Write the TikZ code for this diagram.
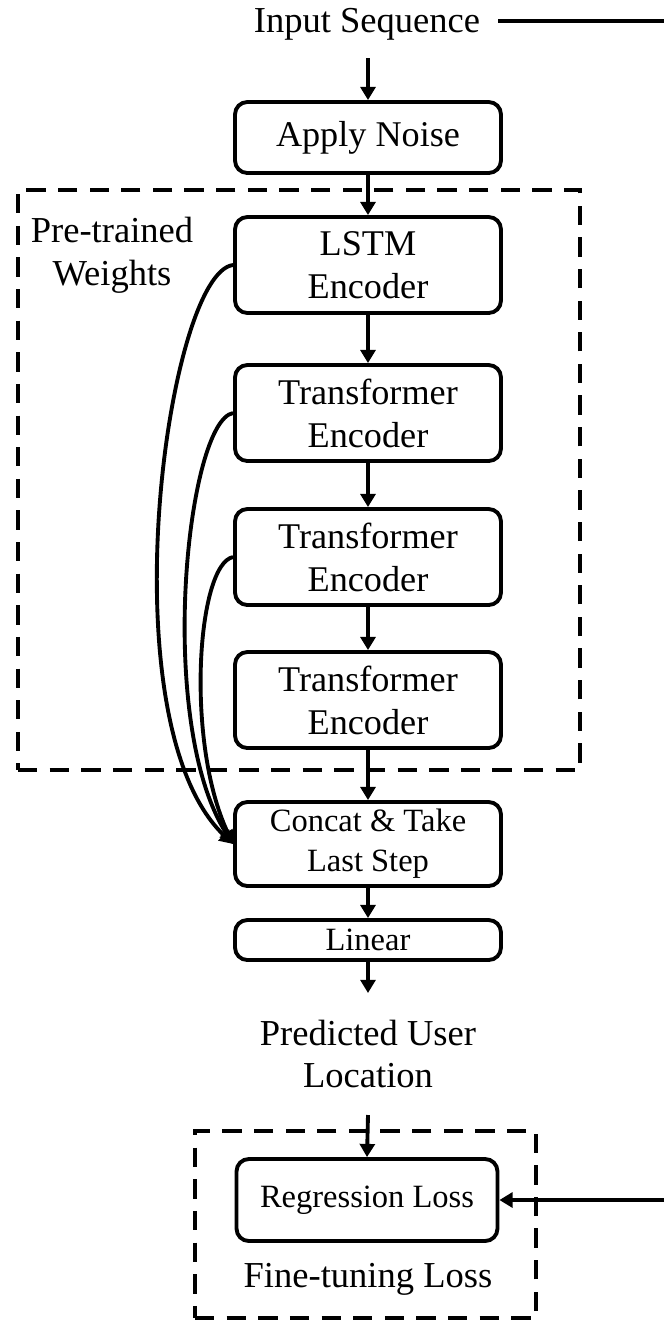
\documentclass[tikz,border=0pt]{standalone}
\usepackage{fontspec}
\setmainfont{Liberation Serif}
\usetikzlibrary{arrows.meta,calc}

\begin{document}
\begin{tikzpicture}[x=0.02cm,y=-0.02cm,
  line width=2.2pt,
  box/.style={draw, rounded corners=7pt, minimum width=5.32cm, align=center,
    inner sep=0pt, font=\fontsize{20.6}{24.4}\selectfont},
  smallbox/.style={box, font=\fontsize{18.5}{22.7}\selectfont},
  lbl/.style={align=center, inner sep=0pt, font=\fontsize{20.8}{24.4}\selectfont},
  arr/.style={-{Triangle[length=7.5pt,width=8.5pt]}},
  group/.style={draw, dash pattern=on 11pt off 7pt, inner sep=0pt}]
\useasboundingbox (0,0) rectangle (664,1322);

% dashed groups
\node[group, minimum width=11.24cm, minimum height=11.6cm] (pretrained) at (299,480) {};
\node[group, minimum width=6.82cm, minimum height=3.74cm] (finetune) at (365.5,1224.5) {};

% labels
\node[lbl] (input) at (367,24) {Input Sequence};
\node[lbl] (ptw) at (112,255) {Pre-trained\\Weights};
\node[lbl] (pred) at (368,1054) {Predicted User\\Location};
\node[lbl] (ftl) at (368,1279) {Fine-tuning Loss};

% processing chain
\node[box, minimum height=1.42cm] (noise) at (368,137.5) {Apply Noise};
\node[box, minimum height=1.92cm] (lstm) at (368,265) {LSTM\\Encoder};
\node[box, minimum height=1.92cm] (tf1) at (368,413) {Transformer\\Encoder};
\node[box, minimum height=1.92cm] (tf2) at (368,557) {Transformer\\Encoder};
\node[box, minimum height=1.92cm] (tf3) at (368,700) {Transformer\\Encoder};
\node[smallbox, minimum height=1.68cm] (concat) at (368,844) {Concat \& Take\\Last Step};
\node[smallbox, minimum height=0.8cm] (linear) at (368,940) {Linear};
\node[smallbox, minimum width=5.22cm, minimum height=1.64cm] (reg) at (367,1200) {Regression Loss};

% free ends at the right border
\coordinate (inR) at (664,21);
\coordinate (gtR) at (664,1200);

% main flow
\draw (inR -| 498,0) -- (inR);
\draw[arr] ($(input)+(1,34)$) -- (noise.north);
\draw[arr] (noise) -- (lstm);
\draw[arr] (lstm) -- (tf1);
\draw[arr] (tf1) -- (tf2);
\draw[arr] (tf2) -- (tf3);
\draw[arr] (tf3) -- (concat);
\draw[arr] (concat) -- (linear);
\draw[arr] (linear.south) -- ($(pred)+(0,-61)$);
\draw[arr] ($(pred)+(0,61)$) -- (reg.north);
\draw[arr] (gtR) -- (reg.east);

% skip connections into the concatenation
\draw[arr] (lstm.west) .. controls +(-66,8) and +(-128,-122) .. (concat.west);
\draw[arr] (tf1.west) .. controls +(-46,8) and +(-78,-122) .. (concat.west);
\draw[arr] (tf2.west) .. controls +(-36,7) and +(-48,-102) .. (concat.west);
\end{tikzpicture}
\end{document}
